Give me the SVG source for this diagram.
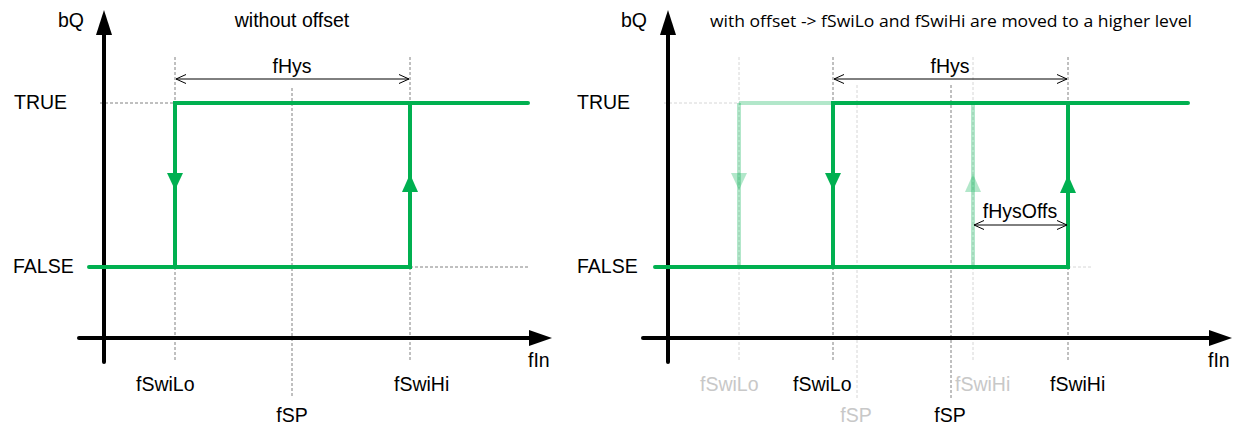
<svg xmlns="http://www.w3.org/2000/svg" width="1242" height="439" viewBox="0 0 1242 439">
<style>
.lbl{font-family:"Liberation Sans",Arial,sans-serif;font-size:19.5px;fill:#000}
.faintlbl{font-family:"Liberation Sans",Arial,sans-serif;font-size:19.5px;fill:#c8c8c8}
.title{font-family:"Liberation Sans",Arial,sans-serif;font-size:19.5px;fill:#000}
.title2{font-family:"Open Sans","Noto Sans",sans-serif;font-size:16px;fill:#000}
.axis{stroke:#000;stroke-width:4;stroke-linecap:round;fill:none}
.dash{stroke:#808080;stroke-width:1;stroke-dasharray:3 2;fill:none}
.dashf{stroke:#d6d6d6;stroke-width:1;stroke-dasharray:3 2;fill:none}
.g{stroke:#00b050;stroke-width:4;fill:none;stroke-linecap:round}
.gf{stroke:#00b050;stroke-opacity:0.3;stroke-width:4;fill:none}
.ga{fill:#00b050}
.gaf{fill:#00b050;fill-opacity:0.3}
.dim{stroke:#000;stroke-width:1;fill:none}
</style>
<defs>
<marker id="chev" viewBox="-12 -6 13 12" markerWidth="13" markerHeight="12" refX="0" refY="0" orient="auto-start-reverse" markerUnits="userSpaceOnUse">
<path d="M-10,-4.5 L0,0 L-10,4.5" fill="none" stroke="#000" stroke-width="1"/>
</marker>
</defs>

<g id="left-panel">
  <g id="left-guides">
    <line class="dash" x1="100" y1="103" x2="175" y2="103"/>
    <line class="dash" x1="175" y1="57" x2="175" y2="362"/>
    <line class="dash" x1="410" y1="57" x2="410" y2="362"/>
    <line class="dash" x1="292" y1="88" x2="292" y2="398"/>
    <line class="dash" x1="410" y1="267" x2="528" y2="267"/>
  </g>
  <g id="left-axes">
    <line class="axis" x1="104" y1="30" x2="104" y2="362"/>
    <polygon points="104,10 96,35 112,35"/>
    <line class="axis" x1="79" y1="338" x2="532" y2="338"/>
    <polygon points="552,338 529,330 529,346"/>
  </g>
  <g id="left-curve">
    <polyline class="g" points="89,267 410,267 410,103"/>
    <polyline class="g" points="175,267 175,103 528,103"/>
    <polygon class="ga" points="175,190 167,173 183,173"/>
    <polygon class="ga" points="410,174 402,192 418,192"/>
  </g>
  <g id="left-dim">
    <line class="dim" x1="176" y1="79" x2="409" y2="79" marker-start="url(#chev)" marker-end="url(#chev)"/>
    <text class="lbl" x="292" y="73" text-anchor="middle">fHys</text>
  </g>
  <g id="left-labels">
    <text class="lbl" x="58" y="27">bQ</text>
    <text class="title" x="292" y="27" text-anchor="middle">without offset</text>
    <text class="lbl" x="14" y="109">TRUE</text>
    <text class="lbl" x="13" y="273">FALSE</text>
    <text class="lbl" x="528" y="367">fIn</text>
    <text class="lbl" x="136" y="391">fSwiLo</text>
    <text class="lbl" x="394" y="391">fSwiHi</text>
    <text class="lbl" x="292" y="422" text-anchor="middle">fSP</text>
  </g>
</g>

<g id="right-panel">
  <g id="right-guides">
    <line class="dashf" x1="664" y1="103" x2="739" y2="103"/>
    <line class="dashf" x1="739" y1="57" x2="739" y2="362"/>
    <line class="dash" x1="833" y1="57" x2="833" y2="362"/>
    <line class="dashf" x1="857" y1="85" x2="857" y2="398"/>
    <line class="dash" x1="951" y1="85" x2="951" y2="398"/>
    <line class="dashf" x1="973" y1="57" x2="973" y2="362"/>
    <line class="dash" x1="1068" y1="57" x2="1068" y2="362"/>
    <line class="dashf" x1="1068" y1="267" x2="1092" y2="267"/>
  </g>
  <g id="right-axes">
    <line class="axis" x1="668" y1="30" x2="668" y2="362"/>
    <polygon points="668,10 660,35 676,35"/>
    <line class="axis" x1="643" y1="338" x2="1212" y2="338"/>
    <polygon points="1232,338 1209,330 1209,346"/>
  </g>
  <g id="right-old-curve">
    <line class="gf" x1="739" y1="103" x2="831" y2="103"/>
    <line class="gf" x1="739" y1="103" x2="739" y2="265"/>
    <polygon class="gaf" points="739,190 731,173 747,173"/>
    <line class="gf" x1="973" y1="105" x2="973" y2="265"/>
    <polygon class="gaf" points="973,174 965,192 981,192"/>
  </g>
  <g id="right-curve">
    <polyline class="g" points="655,267 1068,267 1068,103"/>
    <polyline class="g" points="833,267 833,103 1188,103"/>
    <polygon class="ga" points="833,190 825,173 841,173"/>
    <polygon class="ga" points="1068,175 1060,193 1076,193"/>
  </g>
  <g id="right-dims">
    <line class="dim" x1="834" y1="79" x2="1067" y2="79" marker-start="url(#chev)" marker-end="url(#chev)"/>
    <text class="lbl" x="950" y="73" text-anchor="middle">fHys</text>
    <line class="dim" x1="974" y1="225" x2="1067" y2="225" marker-start="url(#chev)" marker-end="url(#chev)"/>
    <text class="lbl" x="1020" y="218" text-anchor="middle">fHysOffs</text>
  </g>
  <g id="right-labels">
    <text class="lbl" x="621" y="27">bQ</text>
    <text class="title2" x="710" y="27" textLength="482" lengthAdjust="spacingAndGlyphs">with offset -&gt; fSwiLo and fSwiHi are moved to a higher level</text>
    <text class="lbl" x="577" y="109">TRUE</text>
    <text class="lbl" x="577" y="273">FALSE</text>
    <text class="lbl" x="1208" y="367">fIn</text>
    <text class="faintlbl" x="700" y="391">fSwiLo</text>
    <text class="lbl" x="793" y="391">fSwiLo</text>
    <text class="faintlbl" x="955" y="391">fSwiHi</text>
    <text class="lbl" x="1050" y="391">fSwiHi</text>
    <text class="faintlbl" x="856" y="422" text-anchor="middle">fSP</text>
    <text class="lbl" x="950" y="422" text-anchor="middle">fSP</text>
  </g>
</g>
</svg>
